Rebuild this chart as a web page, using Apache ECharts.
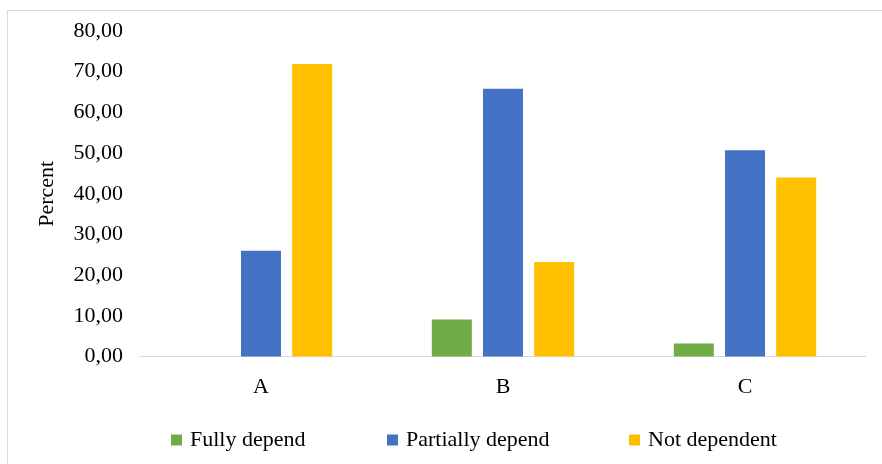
<!DOCTYPE html>
<html>
<head>
<meta charset="utf-8">
<script src="https://cdn.jsdelivr.net/npm/echarts@6/dist/echarts.min.js"></script>
<style>html,body{margin:0;padding:0;background:#fff}#c{width:882px;height:464px}</style>
</head>
<body>
<div id="c"></div>
<script>
var categories = ['A', 'B', 'C'];
var fullyDepend = [0, 9.1, 3.2];
var partiallyDepend = [26.0, 65.8, 50.7];
var notDependent = [71.9, 23.2, 44.0];
var seriesNames = ['Fully depend', 'Partially depend', 'Not dependent'];
var yTicks = [0, 10, 20, 30, 40, 50, 60, 70, 80];

var FONT = '"Liberation Serif", "Times New Roman", serif';
var colors = ['#70AD47', '#4472C4', '#FFC000'];
var chart = echarts.init(document.getElementById('c'), null, {renderer: 'canvas'});

function legendAt(i, left) {
  return {
    data: [seriesNames[i]], left: left, top: 424,
    itemWidth: 11, itemHeight: 11, icon: 'rect',
    textStyle: {fontFamily: FONT, fontSize: 22, color: '#000', padding: [0, 0, 0, 3]}
  };
}

chart.setOption({
  animation: false,
  color: colors,
  grid: {left: 140, right: 16, top: 31, bottom: 107.5, containLabel: false},
  graphic: [
    {type: 'line', shape: {x1: 7.5, y1: 10.5, x2: 882, y2: 10.5}, style: {stroke: '#d9d9d9', lineWidth: 1}},
    {type: 'line', shape: {x1: 7.5, y1: 10.5, x2: 7.5, y2: 464}, style: {stroke: '#d9d9d9', lineWidth: 1}}
  ],
  legend: [legendAt(0, 166), legendAt(1, 382), legendAt(2, 624)],
  xAxis: {
    type: 'category', data: categories,
    axisLine: {lineStyle: {color: '#d9d9d9', width: 1}},
    axisTick: {show: false},
    axisLabel: {fontFamily: FONT, fontSize: 22, color: '#000', margin: 20}
  },
  yAxis: {
    type: 'value', min: yTicks[0], max: yTicks[yTicks.length - 1], interval: 10,
    name: 'Percent', nameLocation: 'middle', nameGap: 82, nameRotate: 90,
    nameTextStyle: {fontFamily: FONT, fontSize: 22, color: '#000'},
    axisLine: {show: false}, axisTick: {show: false},
    splitLine: {show: false},
    axisLabel: {fontFamily: FONT, fontSize: 22, color: '#000', margin: 17,
      formatter: function (v) { return v.toFixed(2).replace('.', ','); }}
  },
  series: [
    {name: seriesNames[0], type: 'bar', data: fullyDepend, barWidth: 40, barGap: '28%'},
    {name: seriesNames[1], type: 'bar', data: partiallyDepend, barWidth: 40, barGap: '28%'},
    {name: seriesNames[2], type: 'bar', data: notDependent, barWidth: 40, barGap: '28%'}
  ]
});
</script>
</body>
</html>
